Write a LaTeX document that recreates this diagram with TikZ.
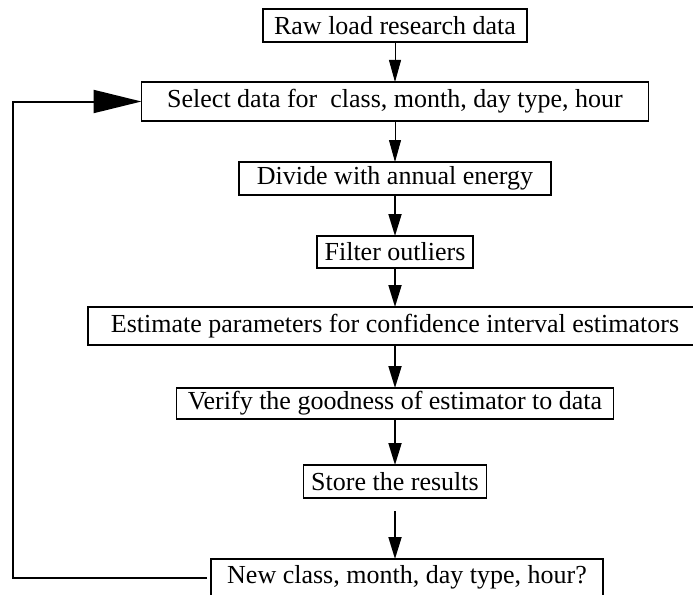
\documentclass[tikz,border=0pt]{standalone}
\usepackage{fontspec}
\setmainfont{Liberation Serif}
\usetikzlibrary{arrows.meta,positioning}

\begin{document}
\begin{tikzpicture}[
    x=1pt,y=1pt,
    node distance=40pt,
    every node/.style={font=\fontsize{26}{30}\selectfont},
    box/.style={
        draw,line width=1.6pt,inner sep=0pt,outer sep=0pt,
        minimum height=33pt,align=center
    },
    thinflow/.style={-{Triangle[length=22pt,width=12pt]},line width=0.9pt},
    flow/.style={-{Triangle[length=22pt,width=13pt]},line width=1.8pt},
    loopback/.style={-{Triangle[length=48pt,width=23pt]},line width=2pt}
]
\useasboundingbox (0,0) rectangle (693,-594);
\node[box,minimum width=264pt] (raw) at (395,-25.5) {Raw load research data};
\node[box,below=40pt of raw,minimum width=507pt,minimum height=39pt] (select)
  {Select data for\ \ class, month, day type, hour};
\node[box,below=41pt of select,minimum width=312pt] (divide)
  {Divide with annual energy};
\node[box,below=41pt of divide,minimum width=156pt,minimum height=32pt] (filter)
  {Filter outliers};
\node[box,below=39pt of filter,minimum width=614pt,minimum height=38pt] (estimate)
  {Estimate parameters for confidence interval estimators};
\node[box,below=43pt of estimate,minimum width=437pt,minimum height=31pt] (verify)
  {Verify the goodness of estimator to data};
\node[box,below=46pt of verify,minimum width=183pt] (store)
  {Store the results};
\node[box,below=61pt of store,xshift=12pt,minimum width=392pt,minimum height=37pt] (newrun)
  {New class, month, day type, hour?};
\coordinate (rail) at (13,0);
\draw[thinflow] (raw) -- (select);
\draw[thinflow] (select) -- (divide);
\draw[flow] (divide) -- (filter);
\draw[flow] (filter) -- (estimate);
\draw[flow] (estimate) -- (verify);
\draw[flow] (verify) -- (store);
\draw[flow,shorten <=13pt] (store.south) -- (store.south |- newrun.north);
\draw[loopback,shorten <=4pt] (newrun.west) -- (newrun.west -| rail) |- (select.west);
\end{tikzpicture}
\end{document}
